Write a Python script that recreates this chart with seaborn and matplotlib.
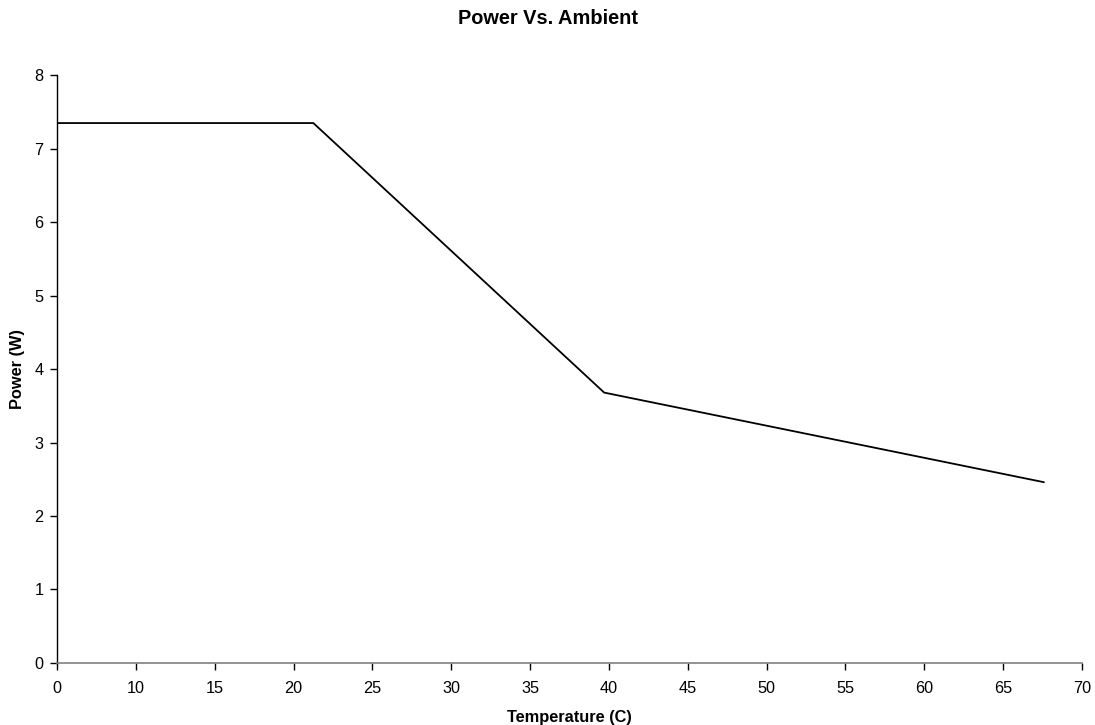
import numpy as np
import pandas as pd
import matplotlib
matplotlib.use("Agg")
import matplotlib.pyplot as plt
import seaborn as sns

# values
temperature = [0, 21.25, 39.7, 67.6]
power = [7.35, 7.35, 3.68, 2.46]
x_tick_values = [0, 10, 15, 20, 25, 30, 35, 40, 45, 50, 55, 60, 65, 70]
y_ticks = [0, 1, 2, 3, 4, 5, 6, 7, 8]

sns.set_style("ticks")
plt.rcParams['font.family'] = ['Liberation Sans', 'DejaVu Sans']
plt.rcParams['text.color'] = 'black'
plt.rcParams['axes.labelcolor'] = 'black'

# the x axis is evenly spaced by label (category-like), so map temps to positions
positions = np.arange(len(x_tick_values))
data = pd.DataFrame({
    "pos": np.interp(temperature, x_tick_values, positions),
    "power": power,
})

fig = plt.figure(figsize=(10.95, 7.25), dpi=100)
ax = fig.add_axes([0.0523, 0.0857, 0.9356, 0.8104])

sns.lineplot(data=data, x="pos", y="power", color="black", linewidth=1.3,
             sort=False, ax=ax)

ax.set_xlim(0, positions[-1])
ax.set_ylim(0, 8)
ax.set_xticks(positions)
ax.set_xticklabels([str(v) for v in x_tick_values])
ax.set_yticks(y_ticks)

ax.tick_params(axis="both", direction="out", length=5, width=1,
               labelsize=11.7, colors="black")
ax.tick_params(axis="x", pad=8)
ax.tick_params(axis="y", pad=5)

sns.despine(ax=ax)
ax.spines["left"].set_color("black")
ax.spines["bottom"].set_color("#808080")
ax.spines["left"].set_linewidth(1)
ax.spines["bottom"].set_linewidth(1.2)

ax.set_xlabel("Temperature (C)", fontsize=11.8, fontweight="bold", labelpad=10)
ax.set_ylabel("Power (W)", fontsize=11.8, fontweight="bold", labelpad=7)
fig.suptitle("Power Vs. Ambient", fontsize=14.4, fontweight="bold", y=0.987)

fig.savefig("out.png", dpi=100)
